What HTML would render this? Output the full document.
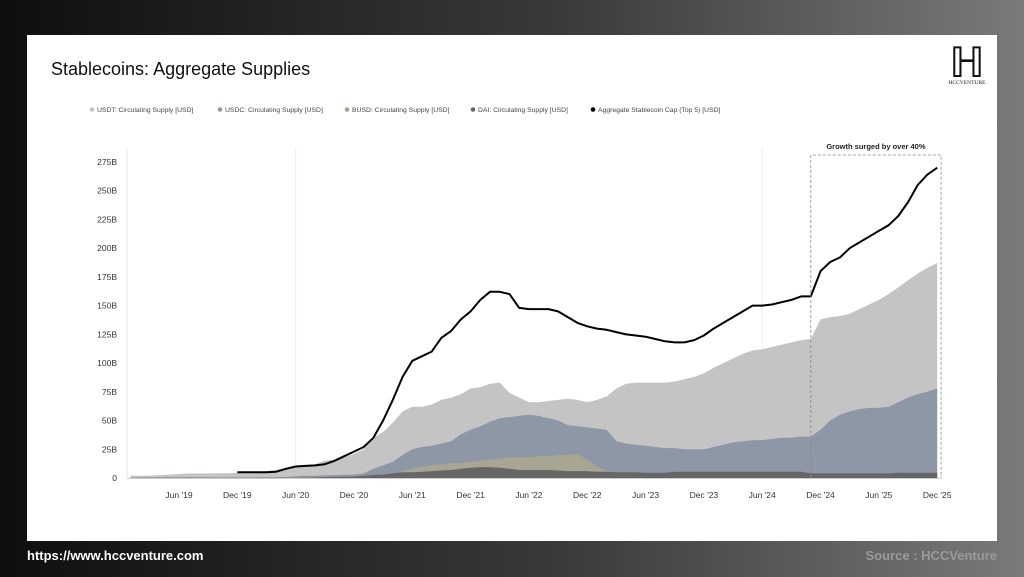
<!DOCTYPE html>
<html><head><meta charset="utf-8"><style>
html,body{margin:0;padding:0;width:1024px;height:577px;overflow:hidden;font-family:"Liberation Sans",sans-serif}
</style></head><body>
<svg id="chart" width="1024" height="577" xmlns="http://www.w3.org/2000/svg">
<defs><linearGradient id="bg" x1="0" x2="1" y1="0" y2="0"><stop offset="0" stop-color="#0e0e0e"/><stop offset="0.55" stop-color="#3a3a3a"/><stop offset="1" stop-color="#7a7a7a"/></linearGradient></defs>
<rect width="1024" height="577" fill="url(#bg)"/>
<rect x="27" y="35" width="970" height="506" fill="#fff"/>
<text x="51" y="75" font-size="18" fill="#111">Stablecoins: Aggregate Supplies</text>
<g>
<text x="967" y="77" font-size="42" font-family="Liberation Serif,serif" text-anchor="middle" fill="#111">ℍ</text>
<text x="967" y="84" font-size="5.5" font-family="Liberation Serif,serif" text-anchor="middle" fill="#111">HCCVENTURE</text>
</g>
<g id="legend" font-size="6.8" fill="#444"></g>
<g id="plot"></g>
<text x="27" y="560" font-size="13" font-weight="bold" fill="#fff">https://www.hccventure.com</text>
<text x="997" y="560" font-size="13" font-weight="bold" fill="#9a9a9a" text-anchor="end">Source : HCCVenture</text>
</svg>
<script>
const months=84;
const usdt=[2,2,2.1,2.5,3,3.5,4,4,4,4.1,4.2,4.5,
4.6,4.7,6,7,9,10,10.5,12,15,16,18,21,
25,35,40,48,58,62,62,64,68,70,73,78,
79,82,83,74,70,66,66,67,68,69,68,66,
68,71,78,82,83,83,83,83,84,86,88,91,
96,100,104,108,111,112,114,116,118,120,121,138,
140,141,143,147,151,155,160,166,172,178,183,187];
const usdc=[0.3,0.4,0.5,0.5,0.6,0.6,0.6,0.6,0.6,0.5,0.5,0.5,
0.5,0.6,0.7,0.8,1,1.5,1.8,2,2.3,2.5,2.8,3,
4,8,11,14,20,25,27,28,30,32,38,42,
45,49,52,53,54,55,54,52,50,46,45,44,
43,42,32,30,29,28,27,26,26,25,25,25,
27,29,31,32,33,33,34,35,35,36,36,42,
50,55,58,60,61,61,62,66,70,73,75,78];
const busd=[0,0,0,0,0,0,0,0,0.1,0.1,0.1,0.1,
0.2,0.2,0.2,0.3,0.3,0.4,0.5,0.6,0.8,1,1,1,
1.2,1.5,2,3,6,8,10,11,12,13,13,14,
15,16,17,18,18,18,19,19,20,20,21,16,
10,6,3,2,1.5,1,0.8,0.6,0.5,0.4,0.3,0.2,
0.1,0.1,0.1,0.1,0.1,0.1,0.1,0.1,0.1,0.1,0.1,0.1,
0.1,0.1,0.1,0.1,0.1,0.1,0.1,0.1,0.1,0.1,0.1,0.1];
const dai=[0.1,0.1,0.1,0.1,0.1,0.1,0.1,0.1,0.1,0.1,0.1,0.1,
0.1,0.1,0.1,0.1,0.1,0.1,0.2,0.4,0.8,1,1.1,1.3,
2,2.5,3,4,5,5,5.5,6,6.5,7,8,9,
9.5,9.5,9,8,7,7,7,7,6.5,6,6,6,
5.5,5.5,5,5,5,4.5,4.5,4.5,5.5,5.5,5.5,5.5,
5.5,5.5,5.5,5.5,5.5,5.5,5.5,5.5,5.5,5.5,4,4,
4,4,4,4,4,4,4,4.5,4.5,4.5,4.5,4.5];
const aggregate=[null,null,null,null,null,null,null,null,null,null,null,5,
5,5,5,5.5,8,10,10.5,11,12,15,19,23,
27,35,50,68,88,102,106,110,122,128,138,145,
155,162,162,160,148,147,147,147,145,140,135,132,
130,129,127,125,124,123,121,119,118,118,120,124,
130,135,140,145,150,150,151,153,155,158,158,180,
188,192,200,205,210,215,220,228,240,255,264,270];
const yTicks=[0,25,50,75,100,125,150,175,200,225,250,275];
const xTickLabels=["Jun '19","Dec '19","Jun '20","Dec '20","Jun '21","Dec '21","Jun '22","Dec '22","Jun '23","Dec '23","Jun '24","Dec '24","Jun '25","Dec '25"];
const xTickMonths=[5,11,17,23,29,35,41,47,53,59,65,71,77,83];
const legendLabels=["USDT: Circulating Supply [USD]","USDC: Circulating Supply [USD]","BUSD: Circulating Supply [USD]","DAI: Circulating Supply [USD]","Aggregate Stablecoin Cap (Top 5) [USD]"];
const annotationStart=70, annotationEnd=83.4;

const NS="http://www.w3.org/2000/svg";
const x=m=>179+(m-5)*9.72;
const y=v=>478-v*(316/275);
const plot=document.getElementById('plot');
function mk(tag,attrs,parent){const e=document.createElementNS(NS,tag);for(const k in attrs)e.setAttribute(k,attrs[k]);(parent||plot).appendChild(e);return e;}

[17,65].forEach(m=>{const g=mk('line',{x1:x(m),x2:x(m),y1:148,y2:478,stroke:'#eee','stroke-width':1});

});
mk('line',{x1:127,x2:127,y1:148,y2:478,stroke:'#e4e4e4'});
yTicks.forEach(v=>{const t=mk('text',{x:117,y:y(v)+3,'font-size':8.5,'text-anchor':'end',fill:'#333'});t.textContent=v===0?'0':v+'B';

});
xTickLabels.forEach((l,i)=>{const t=mk('text',{x:x(xTickMonths[i]),y:498,'font-size':8.5,'text-anchor':'middle',fill:'#333'});t.textContent=l;

});

function area(arr,fill,name){let d='M'+x(0)+','+y(0);arr.forEach((v,i)=>{d+=' L'+x(i).toFixed(1)+','+y(v).toFixed(1);});d+=' L'+x(arr.length-1)+','+y(0)+'Z';
const p=mk('path',{d:d,fill:fill});

}
area(usdt,'#c4c4c4','usdt-area');
area(usdc,'#8e97a6','usdc-area');
area(busd,'#a8a592','busd-area');
area(dai,'#666666','dai-area');
let d='';aggregate.forEach((v,i)=>{if(v==null)return;d+=(d?' L':'M')+x(i).toFixed(1)+','+y(v).toFixed(1);});
const line=mk('path',{d:d,fill:'none',stroke:'#000','stroke-width':2,'stroke-linejoin':'round'});


const ax=mk('line',{x1:127,x2:941,y1:478.5,y2:478.5,stroke:'#ccc'});


const box=mk('path',{d:`M${x(annotationStart)},478 V155 H${x(annotationEnd)} V478`,fill:'none',stroke:'#888','stroke-dasharray':'3,2','stroke-width':0.8});


const at=mk('text',{x:(x(annotationStart)+x(annotationEnd))/2,y:149,'font-size':7.5,'font-weight':'bold','text-anchor':'middle',fill:'#222'});
at.textContent='Growth surged by over 40%';


const lg=document.getElementById('legend');
const lcol=['#c4c4c4','#8e97a6','#a8a592','#666','#000'];
const lx=[92,220,347,473,593];
legendLabels.forEach((l,i)=>{const c=mk('circle',{cx:lx[i],cy:109.5,r:2.3,fill:lcol[i]},lg);


const t=mk('text',{x:lx[i]+5,y:112},lg);t.textContent=l;

});
</script>
</body></html>
